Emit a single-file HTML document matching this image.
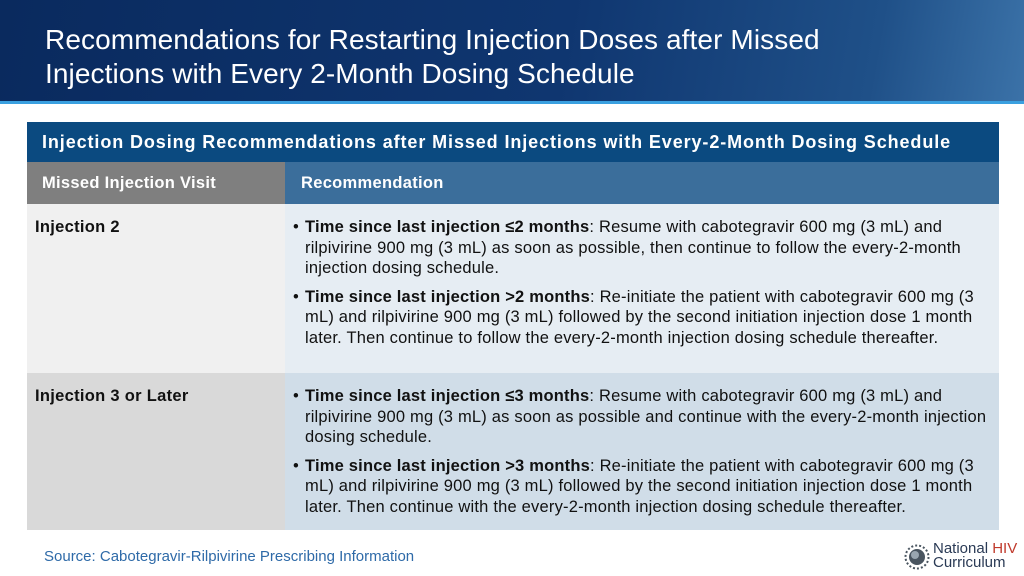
<!DOCTYPE html>
<html><head><meta charset="utf-8"><style>
*{margin:0;padding:0;box-sizing:border-box}
body{width:1024px;height:576px;overflow:hidden;background:#fff;font-family:"Liberation Sans",Arial,sans-serif;position:relative}
#hdr{position:absolute;left:0;top:0;width:1024px;height:102px;background:linear-gradient(100deg,#0a2a5e 0%,#0f3670 55%,#1f5088 85%,#3b72a8 100%)}
#hdr-line{position:absolute;left:0;top:101px;width:1024px;height:3px;background:#3aa0e0}
#title{position:absolute;left:45px;top:23px;color:#fff;font-size:28px;line-height:34px;letter-spacing:0.1px;white-space:nowrap}
.abs{position:absolute}
#tt{left:27px;top:122px;width:972px;height:40px;background:#0b4a80;color:#fff;font-weight:bold;font-size:18px;letter-spacing:0.9px;padding:10px 0 0 15px;white-space:nowrap}
#h1{left:27px;top:162px;width:258px;height:42px;background:#7f7f7f;color:#fff;font-weight:bold;font-size:16.5px;letter-spacing:0.3px;padding:12px 0 0 15px}
#h2{left:285px;top:162px;width:714px;height:42px;background:#3b6e9b;color:#fff;font-weight:bold;font-size:16.5px;letter-spacing:0.3px;padding:12px 0 0 16px}
.lc{font-weight:bold;font-size:16.5px;letter-spacing:0.3px;color:#111;padding:14px 0 0 8px}
.rc{font-size:16.5px;letter-spacing:0.2px;color:#111;line-height:20.5px;padding:13px 0 0 8px;white-space:nowrap}
.b{position:relative;padding-left:12px;margin-bottom:8px}
.b:before{content:"•";position:absolute;left:0;top:0}
#src{left:44px;top:548px;font-size:15px;color:#2e6aa8}
</style></head><body>
<div id="hdr"></div>
<div id="hdr-line"></div>
<div id="title">Recommendations for Restarting Injection Doses after Missed<br>Injections with Every 2-Month Dosing Schedule</div>
<div id="tt" class="abs">Injection Dosing Recommendations after Missed Injections with Every-2-Month Dosing Schedule</div>
<div id="h1" class="abs">Missed Injection Visit</div>
<div id="h2" class="abs">Recommendation</div>
<div class="abs lc" style="left:27px;top:204px;width:258px;height:169px;background:#f0f0f0">Injection 2</div>
<div class="abs rc" style="left:285px;top:204px;width:714px;height:169px;background:#e6edf3">
<div class="b"><b>Time since last injection ≤2 months</b>: Resume with cabotegravir 600 mg (3 mL) and<br>rilpivirine 900 mg (3 mL) as soon as possible, then continue to follow the every-2-month<br>injection dosing schedule.</div>
<div class="b"><b>Time since last injection &gt;2 months</b>: Re-initiate the patient with cabotegravir 600 mg (3<br>mL) and rilpivirine 900 mg (3 mL) followed by the second initiation injection dose 1 month<br>later. Then continue to follow the every-2-month injection dosing schedule thereafter.</div>
</div>
<div class="abs lc" style="left:27px;top:373px;width:258px;height:157px;background:#d9d9d9">Injection 3 or Later</div>
<div class="abs rc" style="left:285px;top:373px;width:714px;height:157px;background:#d0dde8">
<div class="b"><b>Time since last injection ≤3 months</b>: Resume with cabotegravir 600 mg (3 mL) and<br>rilpivirine 900 mg (3 mL) as soon as possible and continue with the every-2-month injection<br>dosing schedule.</div>
<div class="b"><b>Time since last injection &gt;3 months</b>: Re-initiate the patient with cabotegravir 600 mg (3<br>mL) and rilpivirine 900 mg (3 mL) followed by the second initiation injection dose 1 month<br>later. Then continue with the every-2-month injection dosing schedule thereafter.</div>
</div>
<div id="src" class="abs">Source: Cabotegravir-Rilpivirine Prescribing Information</div>
<div class="abs" style="left:903px;top:542px;width:120px;height:30px">
<svg width="28" height="28" viewBox="0 0 28 28" style="position:absolute;left:0;top:1px"><circle cx="14" cy="14" r="8" fill="#4a5560"/><circle cx="12" cy="12" r="4" fill="#9aa6b0"/><g stroke="#4a5560" stroke-width="2" stroke-dasharray="2 2"><circle cx="14" cy="14" r="11.5" fill="none"/></g></svg>
<div style="position:absolute;left:30px;top:0;font-size:15px;line-height:14px;color:#2a3a55">National <span style="color:#c0392b">HIV</span><br>Curriculum</div>
</div>
</body></html>
